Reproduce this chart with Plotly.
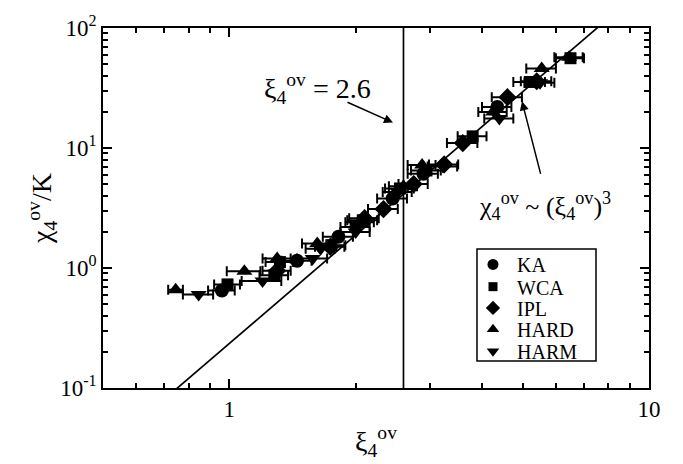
import plotly.graph_objects as go
import math

# ---------------- data ----------------
ka_x = [0.96, 1.45, 1.82, 2.45, 2.9, 4.35]
ka_y = [0.65, 1.15, 1.82, 3.8, 6.1, 22.0]
ka_ex = [0.07, 0.12, 0.15, 0.2, 0.24, 0.35]

wca_x = [0.99, 1.28, 1.32, 1.75, 2.0, 2.08, 2.55, 2.95, 3.8, 5.2, 6.5]
wca_y = [0.73, 0.87, 1.12, 1.55, 2.2, 2.5, 4.6, 6.5, 12.5, 35.5, 56.0]
wca_ex = [0.07, 0.1, 0.1, 0.14, 0.16, 0.17, 0.2, 0.24, 0.3, 0.45, 0.5]

ipl_x = [1.3, 1.74, 2.1, 2.33, 2.75, 3.25, 3.6, 4.6, 5.4]
ipl_y = [0.95, 1.5, 2.6, 3.1, 5.0, 7.3, 11.0, 26.5, 36.0]
ipl_ex = [0.1, 0.14, 0.17, 0.19, 0.22, 0.26, 0.3, 0.38, 0.45]

hard_x = [0.745, 1.086, 1.3, 1.62, 2.05, 2.6, 2.88, 4.25, 5.55, 6.45]
hard_y = [0.66, 0.94, 1.2, 1.6, 2.4, 4.8, 7.2, 20.0, 46.0, 57.0]
hard_ex = [0.03, 0.1, 0.1, 0.13, 0.16, 0.2, 0.22, 0.33, 0.45, 0.5]

harm_x = [0.845, 1.2, 1.58, 1.65, 2.0, 2.52, 3.23, 4.4, 5.5]
harm_y = [0.6, 0.78, 1.2, 1.45, 2.0, 4.3, 7.0, 17.6, 35.0]
harm_ex = [0.07, 0.13, 0.13, 0.13, 0.16, 0.2, 0.26, 0.35, 0.45]

vline_x = 2.6            # xi_4^ov = 2.6
power_amp = 0.235        # chi ~ amp * xi^3
power_exp = 3
power_x = [0.5, 10.0]

x_range = [0.5, 10.0]
y_range = [0.1, 100.0]

legend_names = ["KA", "WCA", "IPL", "HARD", "HARM"]

# ---------------- figure ----------------
FONT = "Liberation Serif"
L, R, T, B = 103, 34, 21, 70
W, H = 683, 464
pw, ph = W - L - R, H - T - B

def px2paper(px, py):
    return (px - L) / pw, (H - B - py) / ph

series = [
    ("KA", ka_x, ka_y, ka_ex, "circle", 14),
    ("WCA", wca_x, wca_y, wca_ex, "square", 12),
    ("IPL", ipl_x, ipl_y, ipl_ex, "diamond", 14),
    ("HARD", hard_x, hard_y, hard_ex, "triangle-up", 14),
    ("HARM", harm_x, harm_y, harm_ex, "triangle-down", 14),
]

fig = go.Figure()

fig.add_trace(go.Scatter(
    x=power_x, y=[power_amp * v ** power_exp for v in power_x],
    mode="lines", line=dict(color="black", width=1.7),
    showlegend=False, hoverinfo="skip"))

for name, xs, ys, ex, sym, sz in series:
    fig.add_trace(go.Scatter(
        x=xs, y=ys, mode="markers", name=name,
        marker=dict(symbol=sym, size=sz, color="black"),
        error_x=dict(type="data", array=ex, visible=True, color="black",
                     thickness=2, width=5),
        showlegend=False))

# custom legend (markers on an auxiliary 0..1 axis overlaying the plot area)
leg_rows_py = [266, 289, 311, 333, 356]
leg_marker_px = 493
leg_text_px = 515
for (name, xs, ys, ex, sym, sz), py in zip(series, leg_rows_py):
    mx, my = px2paper(leg_marker_px, py)
    fig.add_trace(go.Scatter(
        x=[mx], y=[my], xaxis="x2", yaxis="y2", mode="markers",
        marker=dict(symbol=sym, size=sz - 3, color="black"),
        showlegend=False, hoverinfo="skip"))
    tx, ty = px2paper(leg_text_px, py + 1)
    fig.add_annotation(x=tx, y=ty, xref="paper", yref="paper", text=name,
                       showarrow=False, xanchor="left", yanchor="middle",
                       font=dict(family=FONT, size=20, color="black"))

bx0, by0 = px2paper(477, 366)
bx1, by1 = px2paper(596, 250)
fig.add_shape(type="rect", xref="paper", yref="paper", x0=bx0, y0=by0,
              x1=bx1, y1=by1, line=dict(color="black", width=1.5),
              fillcolor="rgba(0,0,0,0)")

# vertical line
fig.add_shape(type="line", xref="x", yref="paper", x0=vline_x, x1=vline_x,
              y0=0, y1=1, line=dict(color="black", width=1.7))

# annotations
t1x, t1y = px2paper(262, 84)
fig.add_annotation(x=t1x, y=t1y, xref="paper", yref="paper",
                   text="ξ<sub>4</sub><sup>ov</sup> = 2.6", showarrow=False,
                   xanchor="left", yanchor="middle",
                   font=dict(family=FONT, size=28, color="black"))
t2x, t2y = px2paper(477, 205)
fig.add_annotation(x=t2x, y=t2y, xref="paper", yref="paper",
                   text="χ<sub>4</sub><sup>ov</sup> ~ (ξ<sub>4</sub><sup>ov</sup>)<sup>3</sup>",
                   showarrow=False, xanchor="left", yanchor="middle",
                   font=dict(family=FONT, size=26, color="black"))

a1x, a1y = px2paper(393, 119)
fig.add_annotation(x=a1x, y=a1y, xref="paper", yref="paper", text="",
                   showarrow=True, ax=346 - 393, ay=98 - 119,
                   arrowhead=2, arrowsize=1.2, arrowwidth=1.5,
                   arrowcolor="black")
a2x, a2y = px2paper(522, 97)
fig.add_annotation(x=a2x, y=a2y, xref="paper", yref="paper", text="",
                   showarrow=True, ax=541 - 522, ay=171 - 97,
                   arrowhead=2, arrowsize=1.2, arrowwidth=1.5,
                   arrowcolor="black")

x_minor = [m * 10 ** e for e in (-1, 0) for m in range(2, 10) if 0.5 < m * 10 ** e < 10]
y_minor = [m * 10 ** e for e in (-1, 0, 1) for m in range(2, 10)]

axis_common = dict(
    type="log", showline=True, linecolor="black", linewidth=1.5,
    mirror="ticks", ticks="inside", ticklen=9, tickwidth=1.5,
    tickcolor="black", showgrid=False, zeroline=False,
    tickfont=dict(family=FONT, size=23, color="black"),
)

fig.update_layout(
    width=W, height=H,
    margin=dict(l=L, r=R, t=T, b=B),
    plot_bgcolor="white", paper_bgcolor="white",
    showlegend=False,
    xaxis=dict(
        **axis_common,
        range=[math.log10(x_range[0]), math.log10(x_range[1])],
        tickvals=[1, 10], ticktext=["1", "10"],
        minor=dict(ticks="inside", ticklen=5, tickwidth=1.5,
                   tickcolor="black", tickvals=x_minor, showgrid=False),
        title=dict(text="ξ<sub>4</sub><sup>ov</sup>",
                   font=dict(family=FONT, size=28, color="black"),
                   standoff=10),
    ),
    yaxis=dict(
        **axis_common,
        range=[math.log10(y_range[0]), math.log10(y_range[1])],
        tickvals=[0.1, 1, 10, 100],
        ticktext=["10<sup>-1</sup>", "10<sup>0</sup>", "10<sup>1</sup>", "10<sup>2</sup>"],
        minor=dict(ticks="inside", ticklen=5, tickwidth=1.5,
                   tickcolor="black", tickvals=y_minor, showgrid=False),
        title=dict(text="χ<sub>4</sub><sup>ov</sup>/K",
                   font=dict(family=FONT, size=28, color="black"),
                   standoff=0),
    ),
    xaxis2=dict(overlaying="x", range=[0, 1], visible=False, fixedrange=True),
    yaxis2=dict(overlaying="y", range=[0, 1], visible=False, fixedrange=True),
)

fig.write_html("out.html")
